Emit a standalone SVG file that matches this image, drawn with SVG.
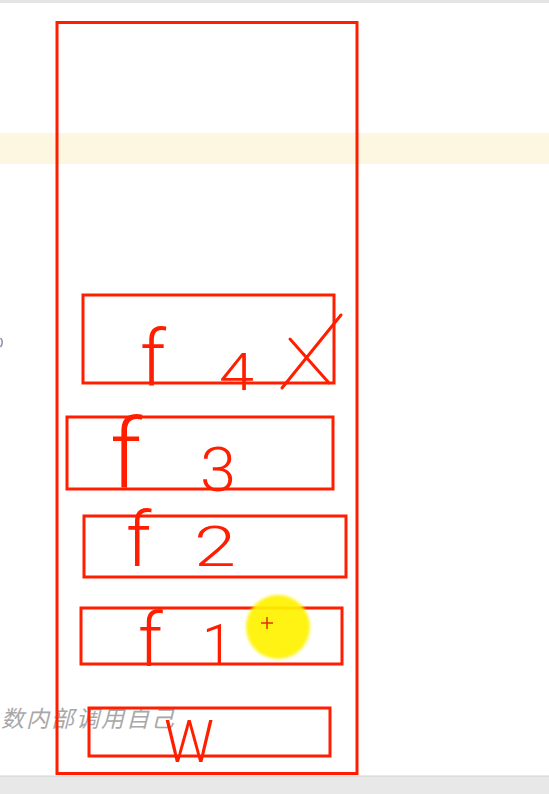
<svg xmlns="http://www.w3.org/2000/svg" width="549" height="794" viewBox="0 0 549 794">
<defs>
<style>
.box{fill:none;stroke:#ff1e00;stroke-width:3}
.hw{font-family:Roboto,"DejaVu Sans",sans-serif;font-weight:300;fill:#ff1e00}
.mark{fill:none;stroke:#ff1e00;stroke-width:3;stroke-linecap:round}
.bg{font-family:"Noto Sans CJK SC","Noto Sans",sans-serif;font-style:italic;fill:#a8a8a8}
</style>
<filter id="soft" x="-30%" y="-30%" width="160%" height="160%"><feGaussianBlur stdDeviation="1.5"/></filter>
</defs>
<rect width="549" height="794" fill="#ffffff"/>
<rect x="0" y="0" width="549" height="3" fill="#e4e4e4"/>
<rect x="0" y="133" width="549" height="31" fill="#fdf7e2"/>
<rect x="0" y="776" width="549" height="18" fill="#e8e8e8"/>
<line x1="0" y1="776" x2="549" y2="776" stroke="#d2d2d2" stroke-width="1"/>
<path d="M0.5 338 Q4 342 0.5 347" fill="none" stroke="#8a90a8" stroke-width="1.5"/>
<text class="bg" x="1" y="727" font-size="23" letter-spacing="2">数内部调用自己</text>

<g id="stack">
<rect class="box" x="57" y="22.5" width="300" height="751"/>
</g>

<g id="f4">
<rect class="box" x="83" y="295" width="251" height="88"/>
<text class="hw" x="140" y="386" font-size="78">f</text>
<text class="hw" x="219" y="390" font-size="52" textLength="35" lengthAdjust="spacingAndGlyphs">4</text>
<path class="mark" d="M282 388 L341 315 M290 339 L329 383"/>
</g>

<g id="f3">
<rect class="box" x="67" y="417" width="266" height="72"/>
<text class="hw" x="110" y="487" font-size="96">f</text>
<text class="hw" x="200" y="491" font-size="62" textLength="36" lengthAdjust="spacingAndGlyphs">3</text>
</g>

<g id="f2">
<rect class="box" x="84" y="516" width="262" height="61"/>
<text class="hw" x="126" y="566" font-size="76">f</text>
<text class="hw" x="194" y="566" font-size="56" textLength="42" lengthAdjust="spacingAndGlyphs">2</text>
</g>

<g id="f1">
<rect class="box" x="81" y="608" width="261" height="56"/>
<text class="hw" x="138" y="666" font-size="74">f</text>
<text class="hw" x="202" y="664" font-size="56">1</text>
</g>

<g id="w">
<rect class="box" x="89" y="708" width="241" height="48"/>
<text class="hw" x="164" y="762" font-size="60" textLength="50" lengthAdjust="spacingAndGlyphs">W</text>
</g>

<g id="cursor">
<circle cx="278" cy="627" r="32" fill="#fff200" opacity="0.92" filter="url(#soft)"/>
<path d="M261 623 H273 M267 617 V629" stroke="#e03000" stroke-width="1.5" fill="none"/>
</g>
</svg>
